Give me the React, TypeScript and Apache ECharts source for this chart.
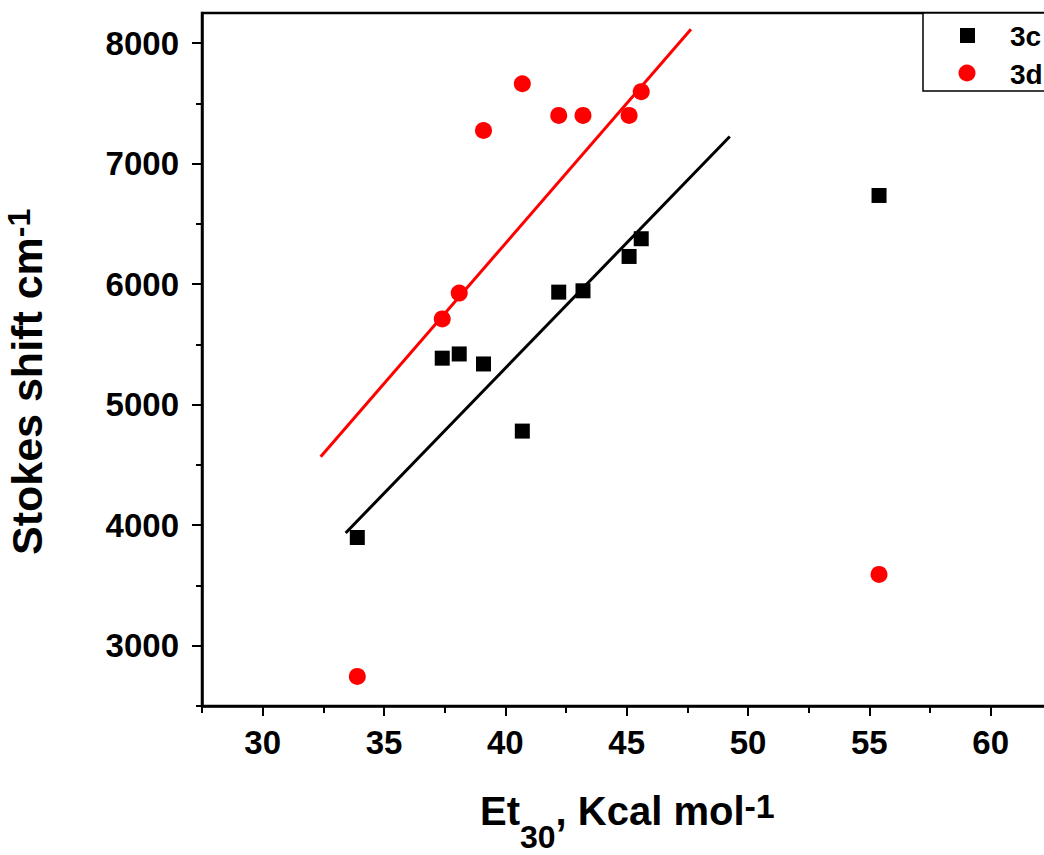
import React, { useEffect, useRef } from "react";
import * as echarts from "echarts";

const FONT = '"Liberation Sans", Arial, Helvetica, sans-serif';

// Et30 values (kcal/mol)
const et30 = [33.9, 37.4, 38.1, 39.1, 40.7, 42.2, 43.2, 45.1, 45.6, 55.4];
// Stokes shift values (cm-1)
const stokes3c = [3898, 5386, 5421, 5338, 4781, 5934, 5945, 6230, 6377, 6736];
const stokes3d = [2745, 5712, 5926, 7275, 7663, 7400, 7400, 7400, 7597, 3592];

// linear fit line end points
const fit3cX = [33.42, 49.25];
const fit3cY = [3936, 7225];
const fit3dX = [32.39, 47.65];
const fit3dY = [4568, 8115];

const xMajor = [30, 35, 40, 45, 50, 55, 60];
const xMinor = [27.5, 32.5, 37.5, 42.5, 47.5, 52.5, 57.5, 62.5];
const yMajor = [3000, 4000, 5000, 6000, 7000, 8000];
const yMinor = [2500, 3500, 4500, 5500, 6500, 7500];

const legendNames = ["3c", "3d"];

const X_MIN = 27.5;
const X_MAX = 65;
const Y_MIN = 2500;
const Y_MAX = 8250;

const pairs = (xs: number[], ys: number[]) => xs.map((x, i) => [x, ys[i]]);

export default function App() {
  const ref = useRef<HTMLDivElement>(null);
  useEffect(() => {
    if (!ref.current) return;
    const chart = echarts.init(ref.current, undefined, { renderer: "svg" });
    const gridBox = { left: 202, top: 13, bottom: 149, right: -68, containLabel: false, outerBoundsMode: "none" };
    const labelStyle = {
      color: "#000",
      fontFamily: FONT,
      fontWeight: "bold" as const,
      fontSize: 33,
      formatter: (v: number) => String(v),
    };
    const tok = (size: number, lh: number, padTop: number) => ({
      fontSize: size,
      fontWeight: "bold",
      fontFamily: FONT,
      color: "#000",
      lineHeight: lh,
      padding: [padTop, 0, 0, 0],
      verticalAlign: "top",
    });
    const richX = { m: tok(40, 40, 2), s: tok(32, 32, 32), p: tok(34, 34, 0) };
    const richY = { m: tok(43, 43, 2), p: tok(32, 32, 0) };
    const richL = { a: tok(28, 28, 0) };
    chart.setOption({
      animation: false,
      backgroundColor: "#fff",
      grid: [
        { ...gridBox, show: true, borderColor: "#000", borderWidth: 2.5, backgroundColor: "transparent" },
        { ...gridBox, show: false },
      ],
      xAxis: [
        {
          type: "value",
          gridIndex: 0,
          min: X_MIN,
          max: X_MAX,
          position: "bottom",
          axisLine: { show: true, onZero: false, lineStyle: { color: "#000", width: 2.5 } },
          axisTick: { show: true, customValues: xMajor, length: 10, lineStyle: { color: "#000", width: 2 } },
          axisLabel: { ...labelStyle, customValues: xMajor, margin: 20 },
          splitLine: { show: false },
        },
        {
          type: "value",
          gridIndex: 1,
          min: X_MIN,
          max: X_MAX,
          position: "bottom",
          axisLine: { show: false, onZero: false },
          axisTick: { show: true, customValues: xMinor, length: 7, lineStyle: { color: "#000", width: 2 } },
          axisLabel: { show: false },
          splitLine: { show: false },
        },
      ],
      yAxis: [
        {
          type: "value",
          gridIndex: 0,
          min: Y_MIN,
          max: Y_MAX,
          position: "left",
          axisLine: { show: true, onZero: false, lineStyle: { color: "#000", width: 2.5 } },
          axisTick: { show: true, customValues: yMajor, length: 10, lineStyle: { color: "#000", width: 2 } },
          axisLabel: { ...labelStyle, customValues: yMajor, margin: 23 },
          splitLine: { show: false },
        },
        {
          type: "value",
          gridIndex: 1,
          min: Y_MIN,
          max: Y_MAX,
          position: "left",
          axisLine: { show: false, onZero: false },
          axisTick: { show: true, customValues: yMinor, length: 6, lineStyle: { color: "#000", width: 2 } },
          axisLabel: { show: false },
          splitLine: { show: false },
        },
      ],
      series: [
        {
          name: "fit 3c",
          type: "line",
          xAxisIndex: 0,
          yAxisIndex: 0,
          data: pairs(fit3cX, fit3cY),
          showSymbol: false,
          symbol: "none",
          lineStyle: { color: "#000", width: 3 },
          z: 2,
        },
        {
          name: "fit 3d",
          type: "line",
          xAxisIndex: 0,
          yAxisIndex: 0,
          data: pairs(fit3dX, fit3dY),
          showSymbol: false,
          symbol: "none",
          lineStyle: { color: "#ff0000", width: 3 },
          z: 2,
        },
        {
          name: legendNames[0],
          type: "scatter",
          xAxisIndex: 0,
          yAxisIndex: 0,
          data: pairs(et30, stokes3c),
          symbol: "rect",
          symbolSize: 15,
          itemStyle: { color: "#000", opacity: 1 },
          z: 3,
        },
        {
          name: legendNames[1],
          type: "scatter",
          xAxisIndex: 0,
          yAxisIndex: 0,
          data: pairs(et30, stokes3d),
          symbol: "circle",
          symbolSize: 17,
          itemStyle: { color: "#ff0000", opacity: 1 },
          z: 3,
        },
      ],
      graphic: [
        {
          type: "rect",
          shape: { x: 923, y: 13, width: 200, height: 78 },
          style: { fill: "#fff", stroke: "#000", lineWidth: 1.5 },
          z: 10,
        },
        {
          type: "rect",
          shape: { x: 960, y: 28, width: 15, height: 15 },
          style: { fill: "#000" },
          z: 11,
        },
        {
          type: "circle",
          shape: { cx: 967, cy: 73, r: 8.5 },
          style: { fill: "#ff0000" },
          z: 11,
        },
        {
          type: "text",
          x: 1010,
          y: 22,
          style: { text: `{a|${legendNames[0]}}`, align: "left", verticalAlign: "top", rich: richL },
          z: 11,
        },
        {
          type: "text",
          x: 1010,
          y: 60,
          style: { text: `{a|${legendNames[1]}}`, align: "left", verticalAlign: "top", rich: richL },
          z: 11,
        },
        {
          type: "text",
          x: 480,
          y: 789,
          style: {
            text: "{m|Et}{s|30}{m|, Kcal mol}{p|-1}",
            align: "left",
            verticalAlign: "top",
            rich: richX,
          },
          z: 11,
        },
        {
          type: "text",
          x: 3,
          y: 555,
          rotation: Math.PI / 2,
          style: {
            text: "{m|Stokes shift cm}{p|-1}",
            align: "left",
            verticalAlign: "top",
            rich: richY,
          },
          z: 11,
        },
      ],
    });
    return () => chart.dispose();
  }, []);
  return (
    <div
      ref={ref}
      style={{ position: "fixed", left: 0, top: 0, width: 1044, height: 855, background: "#fff" }}
    />
  );
}
